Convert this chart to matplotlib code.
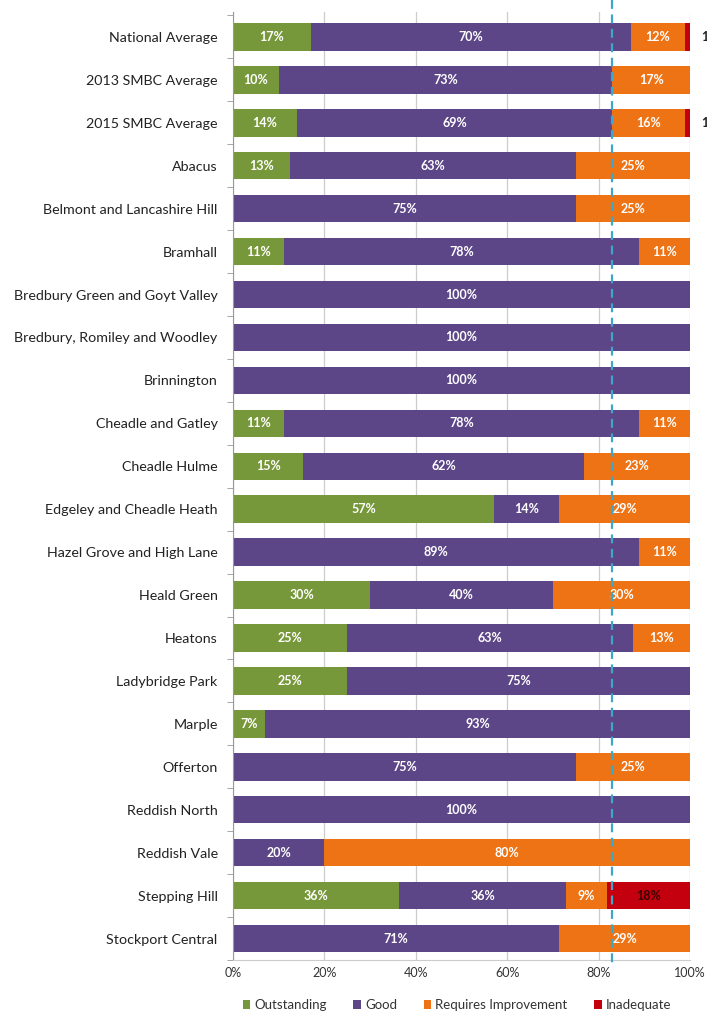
import matplotlib
matplotlib.use("Agg")
import matplotlib.pyplot as plt
from matplotlib.patches import Patch
import numpy as np

plt.rcParams['font.family'] = ['Lato', 'DejaVu Sans']

categories = [
    "National Average", "2013 SMBC Average", "2015 SMBC Average", "Abacus",
    "Belmont and Lancashire Hill", "Bramhall", "Bredbury Green and Goyt Valley",
    "Bredbury, Romiley and Woodley", "Brinnington", "Cheadle and Gatley",
    "Cheadle Hulme", "Edgeley and Cheadle Heath", "Hazel Grove and High Lane",
    "Heald Green", "Heatons", "Ladybridge Park", "Marple", "Offerton",
    "Reddish North", "Reddish Vale", "Stepping Hill", "Stockport Central",
]
outstanding = [17, 10, 14, 12.5, 0, 11.1, 0, 0, 0, 11.1, 15.4, 57.1, 0, 30, 25, 25, 7.1, 0, 0, 0, 36.4, 0]
good        = [70, 73, 69, 62.5, 75, 77.8, 100, 100, 100, 77.8, 61.5, 14.3, 88.9, 40, 62.5, 75, 92.9, 75, 100, 20, 36.4, 71.4]
requires    = [12, 17, 16, 25, 25, 11.1, 0, 0, 0, 11.1, 23.1, 28.6, 11.1, 30, 12.5, 0, 0, 25, 0, 80, 9.1, 28.6]
inadequate  = [1, 0, 1, 0, 0, 0, 0, 0, 0, 0, 0, 0, 0, 0, 0, 0, 0, 0, 0, 0, 18.2, 0]
series_names = ["Outstanding", "Good", "Requires Improvement", "Inadequate"]
reference_line = 83  # 2015 SMBC Outstanding + Good
xticks = [0, 20, 40, 60, 80, 100]
xtick_labels = ["0%", "20%", "40%", "60%", "80%", "100%"]

colors = ["#77983a", "#5c4687", "#ee7314", "#c4000f"]
label_colors = ["white", "white", "white", "#3a0000"]

fig = plt.figure(figsize=(7.07, 10.16), dpi=100)
ax = fig.add_axes([233/707, 1 - 960/1016, (690-233)/707, (960-12)/1016])

y = np.arange(len(categories))
series = [outstanding, good, requires, inadequate]
left = np.zeros(len(categories))
for vals, col, lcol, name in zip(series, colors, label_colors, series_names):
    vals = np.array(vals, dtype=float)
    ax.barh(y, vals, left=left, height=0.64, color=col, label=name, zorder=2)
    for i, v in enumerate(vals):
        if v <= 0:
            continue
        txt = f"{int(v + 0.5)}%"
        if v < 3:
            ax.text(102.5, i, txt[:-1], ha='left', va='center', fontsize=9,
                    color='#222222', fontweight='bold', clip_on=False)
        else:
            ax.text(left[i] + v / 2, i, txt, ha='center', va='center', fontsize=9,
                    color=lcol, fontweight='bold', zorder=3)
    left += vals

ax.set_xlim(0, 100)
ax.set_ylim(len(categories) - 0.5, -0.58)
ax.set_yticks(y)
ax.set_yticklabels(categories, fontsize=10.3, color='#222222')
ax.set_yticks(np.arange(len(categories) + 1) - 0.5, minor=True)
ax.tick_params(axis='y', which='major', length=0, pad=11)
ax.tick_params(axis='y', which='minor', length=4, color='#999999', direction='out')
ax.set_xticks(xticks)
ax.set_xticklabels(xtick_labels, fontsize=9, color='#333333')
ax.tick_params(axis='x', length=0, pad=5)
ax.grid(axis='x', color='#cccccc', linewidth=0.9, zorder=0)
for s in ['top', 'right']:
    ax.spines[s].set_visible(False)
ax.spines['left'].set_color('#999999')
ax.spines['bottom'].set_color('#cccccc')

ax.plot([reference_line, reference_line], [-0.85, len(categories) - 0.35],
        color='#3ea6c8', linestyle=(0, (4, 2.5)), linewidth=1.6,
        clip_on=False, zorder=4)

handles = [Patch(facecolor=c, label=n) for c, n in zip(colors, series_names)]
fig.legend(handles=handles, loc='center', bbox_to_anchor=(457/707, 1 - 1005/1016),
           ncol=4, frameon=False, fontsize=9.5, handlelength=0.6, handleheight=0.6,
           handletextpad=0.3, columnspacing=2.0, labelcolor='#333333')

fig.savefig("out.png", dpi=100)
